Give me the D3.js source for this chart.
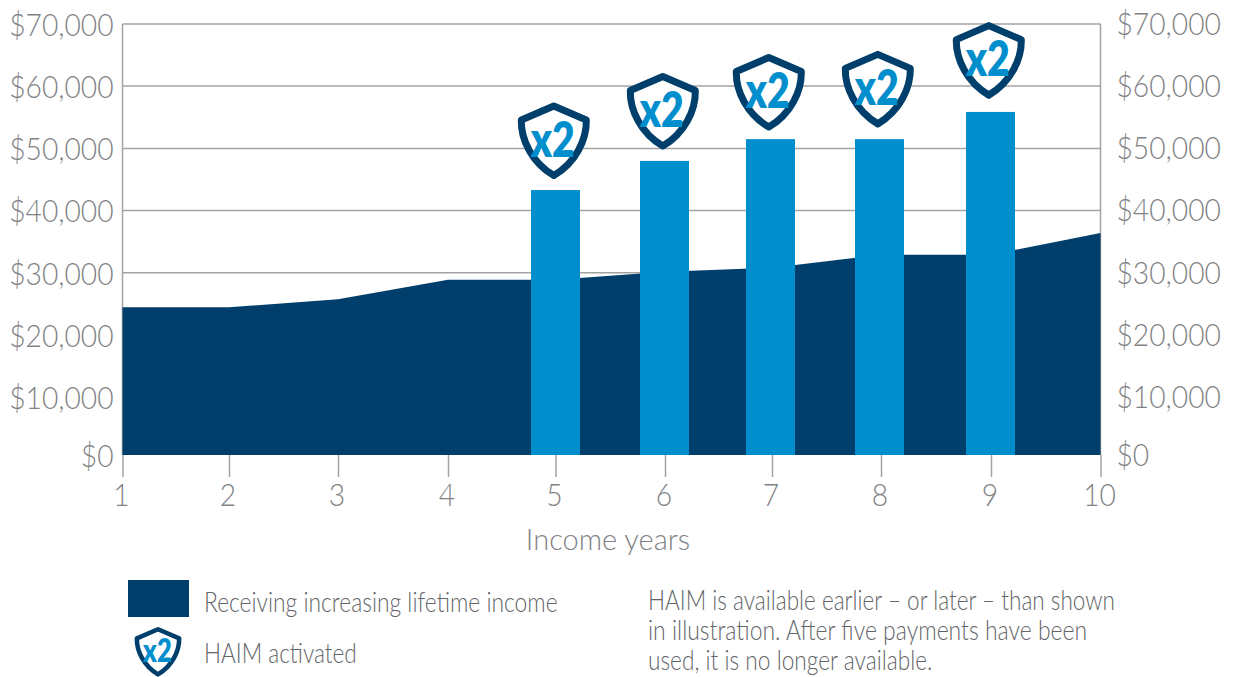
<!DOCTYPE html>
<html>
<head>
<meta charset="utf-8">
<script src="https://cdn.jsdelivr.net/npm/d3@7"></script>
<style>
  html, body { margin: 0; padding: 0; background: #fff; }
  svg { display: block; }
  text { font-family: Lato, "Open Sans", sans-serif; font-weight: 300; }
  .axis text { fill: #7f8285; font-size: 31px; }
  .axis path { display: none; }
</style>
</head>
<body>
<div class="chartHolder"></div>
<script>
var width = 1236;
var height = 677;

// chart values
var years = [1, 2, 3, 4, 5, 6, 7, 8, 9, 10];
var income = [24500, 24500, 25800, 28900, 28900, 30150, 30800, 32900, 32900, 36400];
var haimYears = [5, 6, 7, 8, 9];
var haimIncome = [43300, 48000, 51500, 51500, 55850];
var badgeTips = [45000, 49750, 52800, 53300, 57900]; // where the point of each shield sits
var incomeTicks = [0, 10000, 20000, 30000, 40000, 50000, 60000, 70000];
var noteLines = [
  "HAIM is available earlier \u2013 or later \u2013 than shown",
  "in illustration. After five payments have been",
  "used, it is no longer available."
];

var navy = "#003f6b";
var blue = "#008ecd";
var grey = "#a3a3a3";

var svg = d3
  .select(".chartHolder")
  .append("svg")
  .attr("width", width)
  .attr("height", height);

// Lato runs wider than the original face, so narrow the text to fit
function squeeze(selection, ratio) {
  selection.each(function (d, i) {
    var r = Array.isArray(ratio) ? ratio[i] : ratio;
    d3.select(this)
      .attr("lengthAdjust", "spacingAndGlyphs")
      .attr("textLength", this.getComputedTextLength() * r);
  });
}

// the original axes are not quite even, so both scales are piecewise
var xScale = d3
  .scaleLinear()
  .domain(years)
  .range([122.5, 229, 338, 448, 555.5, 665, 772, 881, 991, 1100.5]);

var yScale = d3
  .scaleLinear()
  .domain(incomeTicks)
  .range([455, 397.5, 335.5, 272.8, 210.5, 148.5, 86, 24]);

// grid
svg
  .append("g")
  .selectAll("line")
  .data(incomeTicks.slice(1))
  .enter()
  .append("line")
  .attr("x1", xScale(1))
  .attr("x2", xScale(10))
  .attr("y1", (d) => yScale(d))
  .attr("y2", (d) => yScale(d))
  .attr("stroke", grey)
  .attr("stroke-width", 1.5);

// frame sides
svg
  .append("g")
  .selectAll("line")
  .data([1, 10])
  .enter()
  .append("line")
  .attr("x1", (d) => xScale(d))
  .attr("x2", (d) => xScale(d))
  .attr("y1", yScale(70000))
  .attr("y2", yScale(0))
  .attr("stroke", grey)
  .attr("stroke-width", 1.5);

// income area
var area = d3
  .area()
  .x((d, i) => xScale(years[i]))
  .y0(yScale(0))
  .y1((d) => yScale(d));

svg.append("path").datum(income).attr("d", area).attr("fill", navy);

// HAIM bars
var barWidth = 49;
var barShift = [0, -0.5, -1.5, -1.5, -0.5]; // the bars sit a little off their ticks

svg
  .append("g")
  .selectAll("rect")
  .data(haimIncome)
  .enter()
  .append("rect")
  .attr("x", (d, i) => xScale(haimYears[i]) - barWidth / 2 + barShift[i])
  .attr("y", (d) => yScale(d))
  .attr("width", barWidth)
  .attr("height", (d) => yScale(0) - yScale(d))
  .attr("fill", blue);

// axes
var money = (d) => "$" + d3.format(",")(d);

var leftAxis = svg
  .append("g")
  .attr("class", "axis")
  .attr("transform", "translate(" + xScale(1) + ",1.5)")
  .call(d3.axisLeft(yScale).tickValues(incomeTicks).tickFormat(money).tickSize(0).tickPadding(9));

var rightAxis = svg
  .append("g")
  .attr("class", "axis")
  .attr("transform", "translate(" + xScale(10) + ",0.5)")
  .call(d3.axisRight(yScale).tickValues(incomeTicks).tickFormat(money).tickSize(0).tickPadding(16));

squeeze(leftAxis.selectAll("text"), 0.91);
squeeze(rightAxis.selectAll("text"), 0.91);

var xAxisGroup = svg
  .append("g")
  .attr("class", "axis")
  .attr("transform", "translate(0," + yScale(0) + ")")
  .call(d3.axisBottom(xScale).tickValues(years).tickFormat(d3.format("d")).tickSize(22).tickPadding(7));

xAxisGroup.selectAll("line").attr("stroke", grey).attr("stroke-width", 1.5);
xAxisGroup.selectAll("text").attr("dx", -1.5);
squeeze(xAxisGroup.selectAll("text"), 0.91);

svg
  .append("text")
  .attr("x", 608)
  .attr("y", 550)
  .attr("text-anchor", "middle")
  .attr("fill", "#7f8285")
  .style("font-size", "29px")
  .text("Income years");

// shield with its point at 0,0
function drawBadge(g) {
  g.append("path")
    .attr("d", "M0,-73.5 L32.5,-59.5 C33,-40 22,-17 0,-4 C-22,-17 -33,-40 -32.5,-59.5 Z")
    .attr("fill", "#fff")
    .attr("stroke", navy)
    .attr("stroke-width", 7)
    .attr("stroke-linejoin", "round");
  g.append("text")
    .attr("x", -1)
    .attr("y", -23)
    .attr("text-anchor", "middle")
    .attr("fill", blue)
    .style("font-size", "49px")
    .style("font-weight", 800)
    .text("x2")
    .call(squeeze, 0.8);
}

svg
  .append("g")
  .selectAll("g")
  .data(badgeTips)
  .enter()
  .append("g")
  .attr("transform", (d, i) => "translate(" + (xScale(haimYears[i]) + barShift[i] - 1.7) + "," + yScale(d) + ")")
  .call(drawBadge);

// legend
svg
  .append("rect")
  .attr("x", 128)
  .attr("y", 580)
  .attr("width", 61)
  .attr("height", 37)
  .attr("fill", navy);

svg
  .append("g")
  .attr("transform", "translate(158,677) scale(0.65)")
  .call(drawBadge);

var legendText = [
  { label: "Receiving increasing lifetime income", y: 612 },
  { label: "HAIM activated", y: 663 }
];

svg
  .append("g")
  .selectAll("text")
  .data(legendText)
  .enter()
  .append("text")
  .attr("x", 204)
  .attr("y", (d) => d.y)
  .attr("fill", "#636568")
  .style("font-size", "27px")
  .text((d) => d.label)
  .call(squeeze, [0.845, 0.835]);

// note
svg
  .append("g")
  .selectAll("text")
  .data(noteLines)
  .enter()
  .append("text")
  .attr("x", 648)
  .attr("y", (d, i) => 610 + i * 30)
  .attr("fill", "#636568")
  .style("font-size", "27px")
  .text((d) => d)
  .call(squeeze, [0.835, 0.85, 0.84]);
</script>
</body>
</html>
